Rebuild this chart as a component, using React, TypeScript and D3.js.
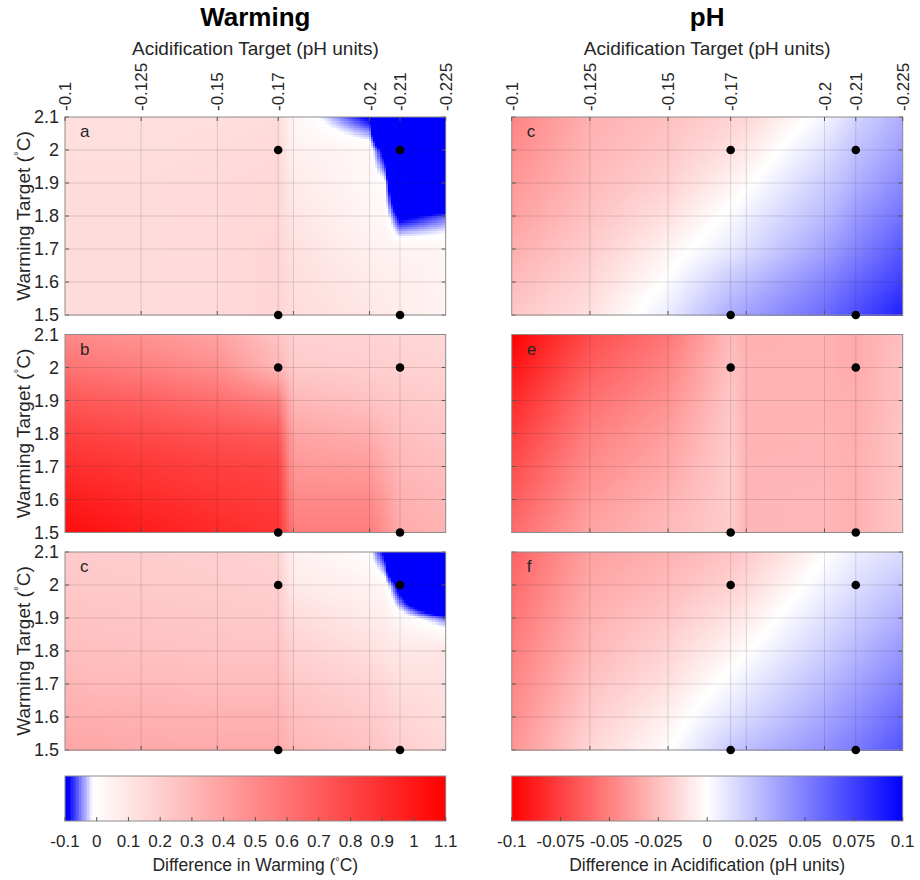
import React, { useEffect, useRef } from "react";
import * as d3 from "d3";

// ---------- data ----------
// grid nodes of the shaded surfaces
const acidNodes = [-0.1, -0.125, -0.15, -0.17, -0.175, -0.2, -0.205, -0.21, -0.225];
const warmNodes = [1.5, 1.6, 1.7, 1.8, 1.9, 2.0, 2.1];

// axis ticks
const xTickValues = [-0.1, -0.125, -0.15, -0.17, -0.2, -0.21, -0.225];
const xTickLabels = ["-0.1", "-0.125", "-0.15", "-0.17", "-0.2", "-0.21", "-0.225"];
const xGridValues = [-0.125, -0.15, -0.17, -0.175, -0.2, -0.21];
const xDefaultTicks = [-0.125, -0.15, -0.175, -0.2];
const yTickValues = [1.5, 1.6, 1.7, 1.8, 1.9, 2.0, 2.1];
const yTickLabels = ["1.5", "1.6", "1.7", "1.8", "1.9", "2", "2.1"];

// scenario points
const scenarioAcid = [-0.17, -0.21];
const scenarioWarm = [1.5, 2.0];

// colorbar ticks
const warmBarTicks = [-0.1, 0, 0.1, 0.2, 0.3, 0.4, 0.5, 0.6, 0.7, 0.8, 0.9, 1, 1.1];
const warmBarLabels = ["-0.1", "0", "0.1", "0.2", "0.3", "0.4", "0.5", "0.6", "0.7", "0.8", "0.9", "1", "1.1"];
const phBarTicks = [-0.1, -0.075, -0.05, -0.025, 0, 0.025, 0.05, 0.075, 0.1];
const phBarLabels = ["-0.1", "-0.075", "-0.05", "-0.025", "0", "0.025", "0.05", "0.075", "0.1"];

// surfaces: rows follow warmNodes (1.5 -> 2.1), columns follow acidNodes
const warmingA = [
  [0.14, 0.14, 0.15, 0.17, 0.14, 0.10, 0.085, 0.07, 0.04],
  [0.14, 0.14, 0.15, 0.17, 0.13, 0.08, 0.07, 0.06, 0.04],
  [0.14, 0.14, 0.15, 0.17, 0.12, 0.05, 0.045, 0.04, 0.03],
  [0.14, 0.14, 0.15, 0.16, 0.10, 0.03, 0.02, -0.11, -0.06],
  [0.14, 0.14, 0.15, 0.16, 0.08, 0.02, 0.0, -0.35, -0.4],
  [0.13, 0.13, 0.14, 0.15, 0.05, 0.02, -0.13, -0.6, -0.6],
  [0.13, 0.13, 0.13, 0.14, 0.03, -0.1, -0.6, -0.6, -0.6],
];
const warmingB = [
  [1.05, 0.98, 0.92, 0.88, 0.56, 0.56, 0.47, 0.36, 0.32],
  [0.98, 0.92, 0.87, 0.84, 0.5, 0.5, 0.42, 0.33, 0.3],
  [0.9, 0.86, 0.82, 0.8, 0.44, 0.42, 0.36, 0.3, 0.27],
  [0.82, 0.78, 0.74, 0.71, 0.38, 0.34, 0.3, 0.27, 0.24],
  [0.72, 0.68, 0.62, 0.55, 0.3, 0.26, 0.24, 0.23, 0.21],
  [0.6, 0.55, 0.48, 0.3, 0.22, 0.2, 0.2, 0.19, 0.18],
  [0.5, 0.46, 0.39, 0.25, 0.19, 0.18, 0.18, 0.17, 0.16],
];
const warmingC = [
  [0.38, 0.36, 0.36, 0.36, 0.3, 0.26, 0.23, 0.2, 0.16],
  [0.34, 0.33, 0.32, 0.32, 0.27, 0.22, 0.2, 0.17, 0.14],
  [0.3, 0.29, 0.28, 0.28, 0.23, 0.18, 0.16, 0.13, 0.12],
  [0.27, 0.26, 0.25, 0.25, 0.19, 0.13, 0.11, 0.09, 0.1],
  [0.25, 0.24, 0.23, 0.22, 0.14, 0.08, 0.06, 0.02, -0.06],
  [0.23, 0.22, 0.21, 0.2, 0.08, 0.04, 0.02, -0.13, -0.6],
  [0.22, 0.21, 0.2, 0.18, 0.05, 0.0, -0.11, -0.6, -0.6],
];
const phC = [
  [-0.022, -0.012, 0.008, 0.033, 0.037, 0.058, 0.064, 0.07, 0.088],
  [-0.027, -0.016, 0.001, 0.022, 0.026, 0.048, 0.054, 0.06, 0.076],
  [-0.032, -0.02, -0.005, 0.008, 0.013, 0.036, 0.042, 0.048, 0.066],
  [-0.037, -0.024, -0.012, 0.002, 0.006, 0.027, 0.033, 0.04, 0.055],
  [-0.041, -0.027, -0.018, -0.005, -0.002, 0.02, 0.025, 0.031, 0.046],
  [-0.045, -0.029, -0.022, -0.012, -0.009, 0.012, 0.018, 0.024, 0.038],
  [-0.049, -0.031, -0.025, -0.018, -0.016, 0.004, 0.01, 0.017, 0.032],
];
const phE = [
  [-0.058, -0.036, -0.027, -0.02, -0.029, -0.028, -0.03, -0.031, -0.022],
  [-0.064, -0.04, -0.03, -0.02, -0.029, -0.028, -0.03, -0.031, -0.022],
  [-0.07, -0.045, -0.034, -0.02, -0.029, -0.029, -0.03, -0.031, -0.023],
  [-0.077, -0.05, -0.038, -0.021, -0.03, -0.029, -0.031, -0.032, -0.023],
  [-0.084, -0.056, -0.043, -0.022, -0.03, -0.03, -0.031, -0.032, -0.024],
  [-0.092, -0.063, -0.048, -0.024, -0.03, -0.03, -0.032, -0.033, -0.024],
  [-0.1, -0.07, -0.054, -0.027, -0.031, -0.03, -0.032, -0.033, -0.025],
];
const phF = [
  [-0.042, -0.016, -0.001, 0.022, 0.026, 0.043, 0.048, 0.052, 0.068],
  [-0.045, -0.02, -0.006, 0.011, 0.015, 0.035, 0.04, 0.044, 0.059],
  [-0.048, -0.024, -0.012, 0.003, 0.007, 0.027, 0.032, 0.036, 0.05],
  [-0.051, -0.028, -0.017, -0.004, -0.001, 0.019, 0.024, 0.028, 0.041],
  [-0.054, -0.031, -0.022, -0.011, -0.008, 0.012, 0.016, 0.02, 0.032],
  [-0.058, -0.034, -0.027, -0.018, -0.015, 0.005, 0.009, 0.013, 0.023],
  [-0.062, -0.037, -0.031, -0.024, -0.021, -0.001, 0.003, 0.007, 0.014],
];

const panelLetters = [["a", "b", "c"], ["c", "e", "f"]];

// ---------- layout ----------
const FONT = "'Liberation Sans', Arial, Helvetica, sans-serif";
const TXT = "#262626";
const cols = [
  { x0: 65, w: 380.7 },
  { x0: 511.7, w: 391 },
];
const rowTops = [117, 334.5, 552];
const PH = 198;
const barTop = 776;
const barH = 45;

const warmColor = d3
  .scaleLinear<string>()
  .domain([-0.1, -0.088, -0.012, 1.1])
  .range(["#0000ff", "#0000ff", "#ffffff", "#ff0000"])
  .interpolate(d3.interpolateRgb)
  .clamp(true);
const phColor = d3
  .scaleLinear<string>()
  .domain([-0.1, 0, 0.1])
  .range(["#ff0000", "#ffffff", "#0000ff"])
  .interpolate(d3.interpolateRgb)
  .clamp(true);

const panels = [
  { col: 0, row: 0, values: warmingA, color: warmColor },
  { col: 0, row: 1, values: warmingB, color: warmColor },
  { col: 0, row: 2, values: warmingC, color: warmColor },
  { col: 1, row: 0, values: phC, color: phColor },
  { col: 1, row: 1, values: phE, color: phColor },
  { col: 1, row: 2, values: phF, color: phColor },
];

const idxX = d3.scaleLinear().domain(acidNodes).range(d3.range(acidNodes.length)).clamp(true);
const idxY = d3.scaleLinear().domain(warmNodes).range(d3.range(warmNodes.length)).clamp(true);

function surface(grid: number[][], a: number, t: number) {
  const fi = idxX(a);
  const fj = idxY(t);
  const i0 = Math.min(Math.floor(fi), acidNodes.length - 2);
  const j0 = Math.min(Math.floor(fj), warmNodes.length - 2);
  const u = fi - i0;
  const v = fj - j0;
  const g00 = grid[j0][i0], g10 = grid[j0][i0 + 1];
  const g01 = grid[j0 + 1][i0], g11 = grid[j0 + 1][i0 + 1];
  return (1 - v) * ((1 - u) * g00 + u * g10) + v * ((1 - u) * g01 + u * g11);
}

function xScale(col: number) {
  return d3.scaleLinear().domain([-0.1, -0.225]).range([0, cols[col].w]);
}
const yScale = d3.scaleLinear().domain([1.5, 2.1]).range([PH, 0]);

export default function App() {
  const heatRef = useRef<SVGGElement>(null);

  useEffect(() => {
    const root = d3.select(heatRef.current);
    root.selectAll("*").remove();
    panels.forEach((p) => {
      const { x0, w } = cols[p.col];
      const y0 = rowTops[p.row];
      const xs = xScale(p.col);
      const nx = Math.round(w / 2.2);
      const ny = Math.round(PH / 2.2);
      const cw = w / nx;
      const ch = PH / ny;
      const cells: { x: number; y: number; c: string }[] = [];
      for (let j = 0; j < ny; j++) {
        for (let i = 0; i < nx; i++) {
          const a = xs.invert((i + 0.5) * cw);
          const t = yScale.invert((j + 0.5) * ch);
          cells.push({ x: i * cw, y: j * ch, c: p.color(surface(p.values, a, t)) });
        }
      }
      root
        .append("g")
        .attr("transform", `translate(${x0},${y0})`)
        .attr("shape-rendering", "crispEdges")
        .selectAll("rect")
        .data(cells)
        .join("rect")
        .attr("x", (d) => d.x)
        .attr("y", (d) => d.y)
        .attr("width", cw + 0.6)
        .attr("height", ch + 0.6)
        .attr("fill", (d) => d.c);
    });
  }, []);

  const barScales = [
    d3.scaleLinear().domain([-0.1, 1.1]).range([0, cols[0].w]),
    d3.scaleLinear().domain([-0.1, 0.1]).range([0, cols[1].w]),
  ];
  const barColors = [warmColor, phColor];
  const barTicks = [warmBarTicks, phBarTicks];
  const barLabels = [warmBarLabels, phBarLabels];

  return (
    <svg
      width={920}
      height={880}
      style={{ position: "absolute", left: 0, top: 0, background: "#fff" }}
      fontFamily={FONT}
    >
      <rect width={920} height={880} fill="#fff" />
      <g ref={heatRef} />

      {panels.map((p, k) => {
        const { x0, w } = cols[p.col];
        const y0 = rowTops[p.row];
        const xs = xScale(p.col);
        return (
          <g key={k} transform={`translate(${x0},${y0})`}>
            {xGridValues.map((g) => (
              <line key={"vx" + g} x1={xs(g)} x2={xs(g)} y1={0} y2={PH} stroke="#262626" strokeOpacity={0.15} strokeWidth={1} />
            ))}
            {yTickValues.slice(1, -1).map((g) => (
              <line key={"hy" + g} x1={0} x2={w} y1={yScale(g)} y2={yScale(g)} stroke="#262626" strokeOpacity={0.15} strokeWidth={1} />
            ))}
            {yTickValues.map((g) => (
              <g key={"ty" + g}>
                <line x1={0} x2={4} y1={yScale(g)} y2={yScale(g)} stroke="#555" strokeWidth={1} />
                <line x1={w - 4} x2={w} y1={yScale(g)} y2={yScale(g)} stroke="#555" strokeWidth={1} />
              </g>
            ))}
            {xDefaultTicks.map((g) => (
              <line key={"tb" + g} x1={xs(g)} x2={xs(g)} y1={PH} y2={PH - 4} stroke="#555" strokeWidth={1} />
            ))}
            <rect x={0} y={0} width={w} height={PH} fill="none" stroke="#8c8c8c" strokeWidth={1} />
            {scenarioAcid.map((a) =>
              scenarioWarm.map((t) => (
                <circle key={a + "_" + t} cx={xs(a)} cy={yScale(t)} r={4.3} fill="#000" />
              ))
            )}
            <text x={15} y={20} fontSize={17} fill={TXT}>
              {panelLetters[p.col][p.row]}
            </text>
            {p.col === 0 &&
              yTickValues.map((g, i) => (
                <text key={"yl" + g} x={-6} y={yScale(g)} dy="0.36em" textAnchor="end" fontSize={18} fill={TXT}>
                  {yTickLabels[i]}
                </text>
              ))}
            {p.col === 0 && (
              <text
                transform={`translate(-35,${PH / 2}) rotate(-90)`}
                textAnchor="middle"
                fontSize={19}
                fill={TXT}
              >
                Warming Target (
                <tspan fontSize={12} dy="-7">°</tspan>
                <tspan dy="7">C)</tspan>
              </text>
            )}
            {p.row === 0 &&
              xTickValues.map((g, i) => (
                <g key={"xt" + g}>
                  <line x1={xs(g)} x2={xs(g)} y1={0} y2={4} stroke="#555" strokeWidth={1} />
                  <text
                    transform={`translate(${xs(g)},-6) rotate(-90)`}
                    dy="0.36em"
                    textAnchor="start"
                    fontSize={17}
                    fill={TXT}
                  >
                    {xTickLabels[i]}
                  </text>
                </g>
              ))}
            {p.row === 0 && (
              <text x={w / 2} y={55 - y0} textAnchor="middle" fontSize={19} fill={TXT}>
                Acidification Target (pH units)
              </text>
            )}
            {p.row === 0 && (
              <text x={w / 2} y={26 - y0} textAnchor="middle" fontSize={26} fontWeight="bold" fill="#000">
                {p.col === 0 ? "Warming" : "pH"}
              </text>
            )}
          </g>
        );
      })}

      {cols.map((c, k) => {
        const s = barScales[k];
        const [d0, d1] = s.domain();
        const n = 240;
        const steps = d3.range(n).map((i) => d0 + ((i + 0.5) / n) * (d1 - d0));
        const sw = c.w / n;
        return (
          <g key={"bar" + k} transform={`translate(${c.x0},${barTop})`}>
            <g shapeRendering="crispEdges">
              {steps.map((v, i) => (
                <rect key={i} x={s(v) - sw / 2} y={0} width={sw + 0.6} height={barH} fill={barColors[k](v)} />
              ))}
            </g>
            <rect x={0} y={0} width={c.w} height={barH} fill="none" stroke="#8c8c8c" strokeWidth={1} />
            {barTicks[k].map((t, i) => (
              <g key={"bt" + i}>
                <line x1={s(t)} x2={s(t)} y1={barH} y2={barH - 4} stroke="#555" strokeWidth={1} />
                <text x={s(t)} y={barH + 26} textAnchor="middle" fontSize={17} fill={TXT}>
                  {barLabels[k][i]}
                </text>
              </g>
            ))}
            <text x={c.w / 2} y={barH + 50} textAnchor="middle" fontSize={17.5} fill={TXT}>
              {k === 0 ? (
                <>
                  Difference in Warming (
                  <tspan fontSize={11} dy="-6">°</tspan>
                  <tspan dy="6">C)</tspan>
                </>
              ) : (
                "Difference in Acidification (pH units)"
              )}
            </text>
          </g>
        );
      })}
    </svg>
  );
}
